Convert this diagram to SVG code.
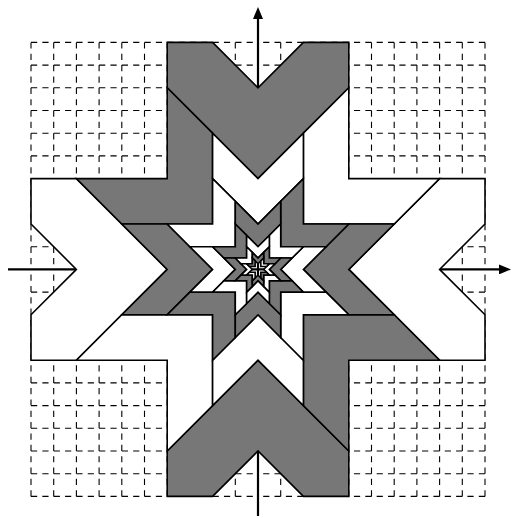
<svg xmlns="http://www.w3.org/2000/svg" xmlns:xlink="http://www.w3.org/1999/xlink" width="512" height="518" viewBox="0 0 512 518">
<style>
.grid{fill:none;stroke:#000;stroke-width:1.1;stroke-dasharray:6.2 5.15}
.axis{fill:none;stroke:#000;stroke-width:2.2}
.g,.w{stroke:#000;stroke-width:1.6;vector-effect:non-scaling-stroke;stroke-linejoin:miter}
.g{fill:#777}
.w{fill:#fff}
</style>
<defs>
<marker id="arr" viewBox="0 0 12 10" markerWidth="12" markerHeight="10" refX="1" refY="5" orient="auto" markerUnits="userSpaceOnUse">
<path d="M0,0 L12,5 L0,10 z" fill="#000"/>
</marker>
<g id="setA">
<polygon class="w" points="-6,-2 -4,-2 -2,0 -4,2 -6,2 -4,0"/>
<polygon class="w" points="6,-2 4,-2 2,0 4,2 6,2 4,0"/>
<polygon class="g" points="-2,-6 0,-4 2,-6 2,-4 0,-2 -2,-4"/>
<polygon class="g" points="-2,6 0,4 2,6 2,4 0,2 -2,4"/>
<polygon class="g" points="-2,-4 -1,-3 -1,-1 -3,-1 -4,-2 -2,-2"/>
<polygon class="w" points="2,-4 1,-3 1,-1 3,-1 4,-2 2,-2"/>
<polygon class="w" points="-2,4 -1,3 -1,1 -3,1 -4,2 -2,2"/>
<polygon class="g" points="2,4 1,3 1,1 3,1 4,2 2,2"/>
</g>
<g id="setB">
<polygon class="g" points="-6,-2 -4,-2 -2,0 -4,2 -6,2 -4,0"/>
<polygon class="g" points="6,-2 4,-2 2,0 4,2 6,2 4,0"/>
<polygon class="w" points="-2,-6 0,-4 2,-6 2,-4 0,-2 -2,-4"/>
<polygon class="w" points="-2,6 0,4 2,6 2,4 0,2 -2,4"/>
<polygon class="w" points="-2,-4 -1,-3 -1,-1 -3,-1 -4,-2 -2,-2"/>
<polygon class="g" points="2,-4 1,-3 1,-1 3,-1 4,-2 2,-2"/>
<polygon class="g" points="-2,4 -1,3 -1,1 -3,1 -4,2 -2,2"/>
<polygon class="w" points="2,4 1,3 1,1 3,1 4,2 2,2"/>
</g>
</defs>
<rect width="512" height="518" fill="#fff"/>
<g id="grid">
<path class="grid" d="M31 42.4H258M31 65.1H258M31 87.8H258M31 110.5H258M31 133.2H258M31 155.9H258M31 178.6H258M31 201.3H258M31 224H258M31 246.7H258"/>
<path class="grid" d="M31 42.4V269.4M53.7 42.4V269.4M76.4 42.4V269.4M99.1 42.4V269.4M121.8 42.4V269.4M144.5 42.4V269.4M167.2 42.4V269.4M189.9 42.4V269.4M212.6 42.4V269.4M235.3 42.4V269.4"/>
<path class="grid" d="M485 42.4H258M485 65.1H258M485 87.8H258M485 110.5H258M485 133.2H258M485 155.9H258M485 178.6H258M485 201.3H258M485 224H258M485 246.7H258"/>
<path class="grid" d="M280.7 42.4V269.4M303.4 42.4V269.4M326.1 42.4V269.4M348.8 42.4V269.4M371.5 42.4V269.4M394.2 42.4V269.4M416.9 42.4V269.4M439.6 42.4V269.4M462.3 42.4V269.4M485 42.4V269.4"/>
<path class="grid" d="M31 292.1H258M31 314.8H258M31 337.5H258M31 360.2H258M31 382.9H258M31 405.6H258M31 428.3H258M31 451H258M31 473.7H258M31 496.4H258"/>
<path class="grid" d="M31 496.4V269.4M53.7 496.4V269.4M76.4 496.4V269.4M99.1 496.4V269.4M121.8 496.4V269.4M144.5 496.4V269.4M167.2 496.4V269.4M189.9 496.4V269.4M212.6 496.4V269.4M235.3 496.4V269.4"/>
<path class="grid" d="M485 292.1H258M485 314.8H258M485 337.5H258M485 360.2H258M485 382.9H258M485 405.6H258M485 428.3H258M485 451H258M485 473.7H258M485 496.4H258"/>
<path class="grid" d="M280.7 496.4V269.4M303.4 496.4V269.4M326.1 496.4V269.4M348.8 496.4V269.4M371.5 496.4V269.4M394.2 496.4V269.4M416.9 496.4V269.4M439.6 496.4V269.4M462.3 496.4V269.4M485 496.4V269.4"/>
</g>
<g id="axes">
<line class="axis" x1="258" y1="516" x2="258" y2="18" marker-end="url(#arr)"/>
<line class="axis" x1="8" y1="269.4" x2="500" y2="269.4" marker-end="url(#arr)"/>
</g>
<g id="pattern" transform="translate(258 269.4) scale(22.7)">
<g id="level0">
<polygon class="w" points="-10,-4 -8,-4 -4,0 -8,4 -10,4 -10,2 -8,0 -10,-2"/>
<polygon class="w" points="10,-4 8,-4 4,0 8,4 10,4 10,2 8,0 10,-2"/>
<polygon class="g" points="-4,-10 -2,-10 0,-8 2,-10 4,-10 4,-8 0,-4 -4,-8"/>
<polygon class="g" points="-4,10 -2,10 0,8 2,10 4,10 4,8 0,4 -4,8"/>
<polygon class="g" points="-4,-8 -2,-6 -2,-2 -6,-2 -8,-4 -4,-4"/>
<polygon class="w" points="4,-8 2,-6 2,-2 6,-2 8,-4 4,-4"/>
<polygon class="w" points="-4,8 -2,6 -2,2 -6,2 -8,4 -4,4"/>
<polygon class="g" points="4,8 2,6 2,2 6,2 8,4 4,4"/>
</g>
<use id="level1" xlink:href="#setB"/>
<use id="level2" xlink:href="#setA" transform="scale(0.5)"/>
<use id="level3" xlink:href="#setB" transform="scale(0.25)"/>
<use id="level4" xlink:href="#setA" transform="scale(0.125)"/>
</g>
</svg>
